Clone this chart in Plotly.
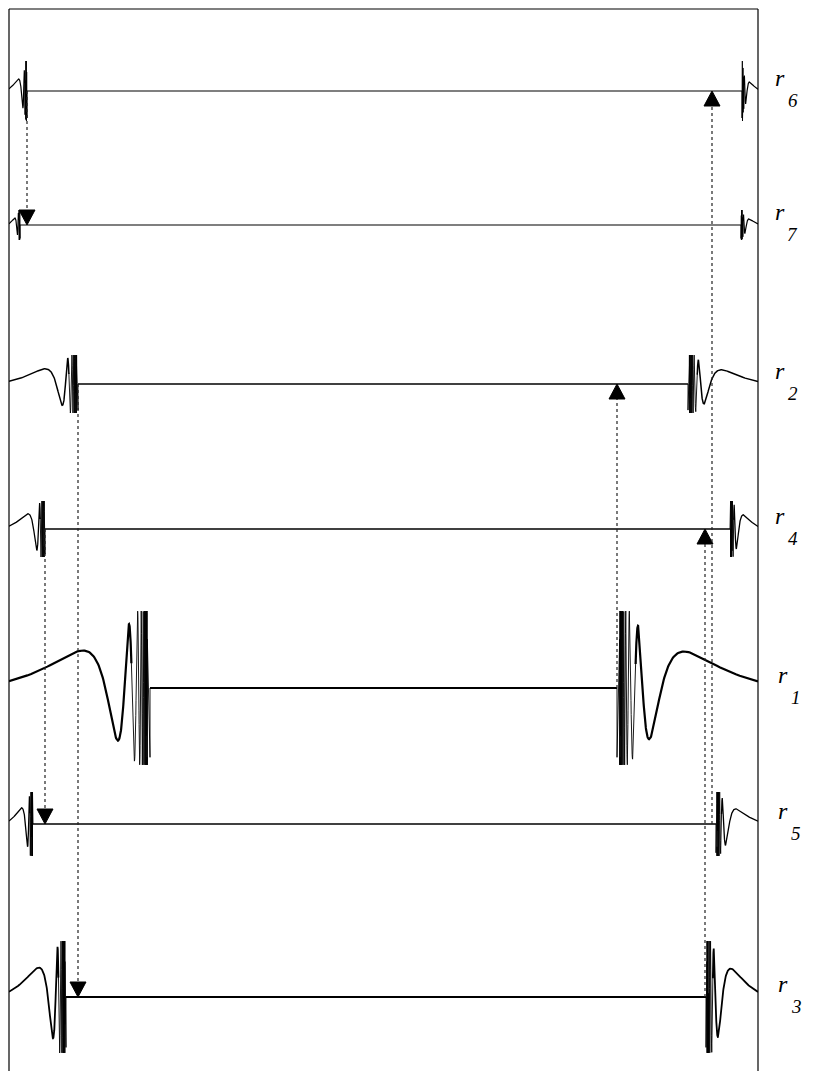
import numpy as np
import plotly.graph_objects as go

# ---- data ----
row_names = ["6", "7", "2", "4", "1", "5", "3"]
baseline_y = [91, 225, 384, 529, 688, 824, 997]
left_chirp_x = [27, 20, 78, 45, 150, 33, 66]
right_chirp_x = [742, 741, 688, 730, 617, 716, 706]
peak_left = [12, 7, 15, 15, 37, 16, 29]      # height of first lobe
peak_right = [9, 6, 14, 14, 36, 15, 28]
burst_half = [30, 15, 29, 28, 77, 32, 56]    # half height of the dense burst
line_w = [1.2, 1.2, 1.5, 1.3, 2.2, 1.3, 1.8]
label_x = [780, 780, 780, 780, 783, 783, 783]

arrow_x = [27, 78, 45, 617, 705, 712]
arrow_src = ["6", "2", "4", "1", "3", "5"]
arrow_dst = ["7", "3", "5", "2", "4", "6"]

X_LEFT, X_RIGHT = 9, 758
Y_TOP, Y_BOTTOM = 9, 1071
PAGE_OFF = 8  # browser body margin

# waveform shape constants (dispersive chirp)
D_EDGE = 143.0
C = 191.4
PHI0 = -1.088
PHI_SPLIT = 9.0
PHI_END = 70.0


def wave(xc, edge, peak, cap, side, phi_lo, phi_hi, step):
    s = abs(xc - edge) / D_EDGE
    phi = np.arange(phi_lo, phi_hi, step)
    d = C / (phi - PHI0)
    amp = np.minimum(peak * (72.0 / d) ** 0.45, cap)
    f = amp * np.sin(phi)
    x = xc - side * d * s
    return x, f


fig = go.Figure()
ymap = dict(zip(row_names, baseline_y))
phi_start = C / D_EDGE + PHI0

for i, name in enumerate(row_names):
    yb = baseline_y[i]
    for xc, edge, pk, side in [(left_chirp_x[i], X_LEFT, peak_left[i], +1),
                               (right_chirp_x[i], X_RIGHT, peak_right[i], -1)]:
        xs, fs = wave(xc, edge, pk, burst_half[i], side, phi_start, PHI_SPLIT + 0.1, 0.05)
        fig.add_trace(go.Scatter(x=xs, y=yb - fs, mode="lines",
                                 line=dict(color="black", width=line_w[i]),
                                 hoverinfo="skip", showlegend=False))
        xb, fb = wave(xc, edge, pk, burst_half[i], side, PHI_SPLIT, PHI_END, 0.2)
        xb = np.concatenate([xb, [xc, xc]])
        fb = np.concatenate([fb, [-burst_half[i] * 0.9, 0]])
        fig.add_trace(go.Scatter(x=xb, y=yb - fb, mode="lines",
                                 line=dict(color="black", width=0.9),
                                 hoverinfo="skip", showlegend=False))
    fig.add_trace(go.Scatter(x=[left_chirp_x[i], right_chirp_x[i]], y=[yb, yb],
                             mode="lines", line=dict(color="black", width=line_w[i]),
                             hoverinfo="skip", showlegend=False))

# arrows: dotted line + triangle head touching target baseline
TW, TH = 8, 15
for ax, src, dst in zip(arrow_x, arrow_src, arrow_dst):
    ys_, yd = ymap[src], ymap[dst]
    if yd > ys_:
        yend = yd - TH
        tri_y = [yd - TH, yd - TH, yd, yd - TH]
    else:
        yend = yd + TH
        tri_y = [yd + TH, yd + TH, yd, yd + TH]
    fig.add_trace(go.Scatter(x=[ax, ax], y=[ys_, yend], mode="lines",
                             line=dict(color="#222", width=1.2, dash="dot"),
                             hoverinfo="skip", showlegend=False))
    fig.add_trace(go.Scatter(x=[ax - TW, ax + TW, ax, ax - TW], y=tri_y,
                             mode="lines", fill="toself", fillcolor="black",
                             line=dict(color="black", width=1),
                             hoverinfo="skip", showlegend=False))


def px_to_paper(px):
    return (px - X_LEFT) / (X_RIGHT - X_LEFT)


for name, yb, lx in zip(row_names, baseline_y, label_x):
    fig.add_annotation(x=px_to_paper(lx), y=yb - 13, xref="paper", yref="y",
                       text="<i>r</i>", showarrow=False,
                       xanchor="center", yanchor="middle",
                       font=dict(family="Liberation Serif", size=24, color="black"))
    fig.add_annotation(x=px_to_paper(lx + 13), y=yb + 9, xref="paper", yref="y",
                       text="<i>" + name + "</i>", showarrow=False,
                       xanchor="center", yanchor="middle",
                       font=dict(family="Liberation Serif", size=19, color="black"))

# frame: left, right, top (no bottom edge)
for x0, y0, x1, y1 in [(0, 0, 0, 1), (1, 0, 1, 1), (0, 1, 1, 1)]:
    fig.add_shape(type="line", xref="paper", yref="paper", x0=x0, y0=y0, x1=x1, y1=y1,
                  line=dict(color="black", width=1.2))

W, H = 829 - PAGE_OFF, 1071 - PAGE_OFF
fig.update_layout(
    width=W, height=H,
    margin=dict(l=X_LEFT - PAGE_OFF, r=W - (X_RIGHT - PAGE_OFF),
                t=Y_TOP - PAGE_OFF, b=H - (Y_BOTTOM - PAGE_OFF)),
    paper_bgcolor="white", plot_bgcolor="white",
    xaxis=dict(range=[X_LEFT, X_RIGHT], showgrid=False, zeroline=False,
               showticklabels=False, ticks="", showline=False),
    yaxis=dict(range=[Y_BOTTOM, Y_TOP], showgrid=False, zeroline=False,
               showticklabels=False, ticks="", showline=False),
)

fig.write_html("out.html")
